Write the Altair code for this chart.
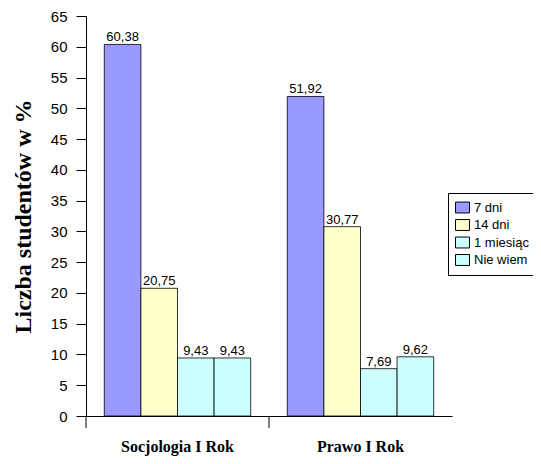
import altair as alt
import pandas as pd

groups = ["Socjologia I Rok", "Prawo I Rok"]
series = ["7 dni", "14 dni", "1 miesiąc", "Nie wiem"]
colors = ["#9999FF", "#FFFFCC", "#CCFFFF", "#CCFFFF"]
values = {
    "Socjologia I Rok": [60.38, 20.75, 9.43, 9.43],
    "Prawo I Rok": [51.92, 30.77, 7.69, 9.62],
}
labels = {
    "Socjologia I Rok": ["60,38", "20,75", "9,43", "9,43"],
    "Prawo I Rok": ["51,92", "30,77", "7,69", "9,62"],
}
y_ticks = list(range(0, 70, 5))

rows = []
for g in groups:
    for i, s in enumerate(series):
        rows.append({"grupa": g, "seria": s, "val": values[g][i], "lab": labels[g][i], "ord": i})
df = pd.DataFrame(rows)

W, H = 366, 400

x_scale = alt.Scale(paddingInner=0, paddingOuter=0)
y_scale = alt.Scale(domain=[0, 65], nice=False)

x_axis = alt.Axis(title=None, ticks=False, labelPadding=22,
                  labelFont="Liberation Serif", labelFontWeight="bold",
                  labelFontSize=16, labelColor="black",
                  domainColor="black", domainWidth=1, labelAngle=0)
y_axis = alt.Axis(title="Liczba studentów w %", values=y_ticks, grid=False,
                  labelOverlap=False,
                  tickSize=10, tickColor="black", labelPadding=9,
                  labelFont="Liberation Sans", labelFontSize=15, labelColor="black",
                  domainColor="black", titleFont="Liberation Serif",
                  titleFontSize=24, titleFontWeight="bold", titleColor="black",
                  titleX=-56, titleY=200, titleAngle=-90,
                  titleBaseline="alphabetic", titleAlign="center")

xo = alt.XOffset("seria:N", sort=series, scale=alt.Scale(paddingOuter=0.5, paddingInner=0))

rect_shape = "M-1,-0.78H1V0.78H-1Z"

bars = alt.Chart(df).mark_bar(stroke="black", strokeWidth=0.8).encode(
    x=alt.X("grupa:N", sort=groups, scale=x_scale, axis=x_axis),
    xOffset=xo,
    y=alt.Y("val:Q", scale=y_scale, axis=y_axis),
    color=alt.Color("seria:N", sort=series,
                    scale=alt.Scale(domain=series, range=colors),
                    legend=alt.Legend(title=None, orient="none", legendX=362, legendY=177,
                                      symbolType=rect_shape, symbolSize=196,
                                      symbolStrokeColor="black", symbolStrokeWidth=1,
                                      labelFont="Liberation Sans", labelFontSize=13,
                                      labelColor="black", rowPadding=2.5,
                                      fillColor="white", strokeColor="black",
                                      padding=7, labelLimit=200, labelOffset=4)),
)

text = alt.Chart(df).mark_text(dy=-7, font="Liberation Sans", fontSize=13, color="black").encode(
    x=alt.X("grupa:N", sort=groups, scale=x_scale, axis=x_axis),
    xOffset=xo,
    y=alt.Y("val:Q", scale=y_scale, axis=y_axis),
    text="lab:N")

tick_df = pd.DataFrame({"grupa": groups})
ticks = alt.Chart(tick_df).mark_rule(color="black", strokeWidth=1).encode(
    x=alt.X("grupa:N", sort=groups, scale=x_scale, axis=x_axis, bandPosition=0),
    y=alt.value(H), y2=alt.value(H + 12))

chart = alt.layer(bars, text, ticks).properties(
    width=W, height=H,
    background="white",
    autosize=alt.AutoSizeParams(type="none"),
    padding={"left": 78, "top": 8, "right": 81, "bottom": 40},
).configure_view(strokeWidth=0, stroke="transparent")

chart.save("out.html", embed_options={"renderer": "svg", "actions": False})
